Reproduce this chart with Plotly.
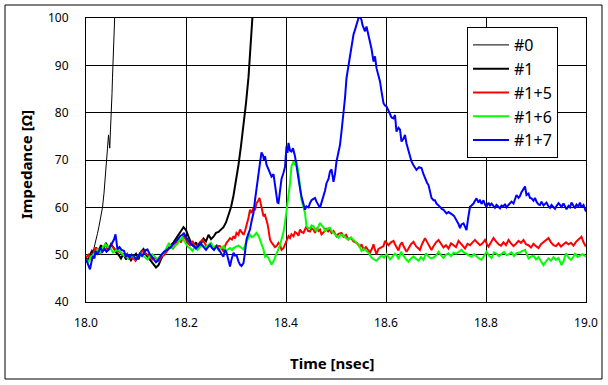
import plotly.graph_objects as go

# ---------------- data ----------------
x_tick_vals = [18.0, 18.2, 18.4, 18.6, 18.8, 19.0]
x_tick_text = ["18.0", "18.2", "18.4", "18.6", "18.8", "19.0"]
y_tick_vals = [40, 50, 60, 70, 80, 90, 100]

series_names = ["#0", "#1", "#1+5", "#1+6", "#1+7"]

x0 = [18.000, 18.005, 18.010, 18.014, 18.017, 18.020, 18.023, 18.026, 18.030, 18.033, 18.036, 18.039,
      18.041, 18.043, 18.045, 18.0465, 18.0475, 18.049, 18.050, 18.051, 18.052, 18.053, 18.054, 18.055,
      18.056, 18.057, 18.058]
y0 = [48.5, 48.9, 49.2, 50.5, 51.7, 53.0, 54.5, 56.0, 58.3, 60.0, 63.0, 66.5,
      69.5, 72.5, 75.3, 73.0, 72.5, 76.5, 78.5, 80.5, 84.0, 87.5, 90.5, 93.0,
      96.0, 99.0, 102.0]

x1 = [18.000, 18.004, 18.008, 18.012, 18.016, 18.020, 18.025, 18.030, 18.035, 18.040, 18.045, 18.050,
      18.055, 18.060, 18.065, 18.070, 18.075, 18.080, 18.085, 18.090, 18.095, 18.100, 18.105, 18.110,
      18.115, 18.120, 18.125, 18.130, 18.135, 18.140, 18.145, 18.150, 18.155, 18.160, 18.165, 18.170,
      18.175, 18.180, 18.185, 18.190, 18.195, 18.200, 18.205, 18.210, 18.215, 18.220, 18.225, 18.230,
      18.235, 18.240, 18.245, 18.250, 18.255, 18.260, 18.265, 18.270, 18.275, 18.280, 18.285, 18.290,
      18.295, 18.300, 18.305, 18.310, 18.315, 18.320, 18.325, 18.328, 18.331, 18.334]
y1 = [49.5, 48.5, 50.0, 50.8, 50.2, 51.5, 50.8, 52.0, 51.2, 52.5, 51.0, 52.2,
      51.5, 50.5, 50.0, 49.2, 50.2, 49.0, 49.8, 48.8, 49.6, 50.2, 49.0, 50.6,
      51.2, 50.0, 49.3, 48.6, 48.0, 47.3, 47.8, 49.0, 50.2, 50.8, 51.5, 52.0,
      52.6, 53.5, 54.2, 55.0, 55.8, 55.2, 53.8, 52.5, 51.8, 52.6, 51.5, 52.3,
      53.4, 52.8, 54.2, 53.3, 53.8, 54.6, 54.8, 55.2, 55.8, 56.8, 58.2, 60.0,
      62.5, 65.5, 69.0, 73.0, 77.0, 82.0, 87.5, 92.0, 97.0, 102.0]

x15 = [18.000, 18.005, 18.010, 18.015, 18.019, 18.024, 18.029, 18.034, 18.039, 18.044, 18.050, 18.055,
       18.059, 18.064, 18.069, 18.073, 18.078, 18.082, 18.086, 18.090, 18.095, 18.099, 18.104, 18.108,
       18.113, 18.118, 18.122, 18.127, 18.133, 18.138, 18.143, 18.146, 18.151, 18.157, 18.163, 18.169,
       18.174, 18.179, 18.183, 18.186, 18.190, 18.193, 18.196, 18.199, 18.204, 18.208, 18.213, 18.218,
       18.223, 18.228, 18.233, 18.238, 18.242, 18.246, 18.250, 18.255, 18.261, 18.268, 18.272, 18.275,
       18.278, 18.281, 18.285, 18.288, 18.292, 18.295, 18.298, 18.301, 18.305, 18.308, 18.311, 18.315,
       18.318, 18.321, 18.325, 18.328, 18.331, 18.335, 18.338, 18.341, 18.344, 18.347, 18.349, 18.351,
       18.353, 18.355, 18.358, 18.361, 18.363, 18.365, 18.367, 18.368, 18.371, 18.375, 18.378, 18.381,
       18.385, 18.388, 18.391, 18.395, 18.398, 18.401, 18.405, 18.408, 18.411, 18.415, 18.418, 18.421,
       18.425, 18.428, 18.431, 18.435, 18.438, 18.441, 18.444, 18.448, 18.451, 18.455, 18.458, 18.461,
       18.465, 18.468, 18.471, 18.475, 18.478, 18.481, 18.484, 18.488, 18.491, 18.495, 18.498, 18.501,
       18.505, 18.511, 18.515, 18.520, 18.525, 18.530, 18.535, 18.541, 18.545, 18.548, 18.551, 18.555,
       18.560, 18.565, 18.568, 18.572, 18.575, 18.578, 18.581, 18.585, 18.590, 18.595, 18.598, 18.601,
       18.605, 18.610, 18.615, 18.618, 18.621, 18.625, 18.628, 18.632, 18.636, 18.641, 18.645, 18.650,
       18.655, 18.660, 18.664, 18.668, 18.672, 18.678, 18.682, 18.686, 18.691, 18.695, 18.700, 18.705,
       18.710, 18.715, 18.720, 18.725, 18.730, 18.735, 18.740, 18.745, 18.750, 18.754, 18.758, 18.763,
       18.768, 18.773, 18.778, 18.783, 18.788, 18.793, 18.798, 18.802, 18.805, 18.810, 18.815, 18.820,
       18.825, 18.830, 18.835, 18.840, 18.845, 18.850, 18.855, 18.860, 18.865, 18.870, 18.875, 18.880,
       18.885, 18.890, 18.895, 18.900, 18.905, 18.910, 18.915, 18.920, 18.925, 18.930, 18.935, 18.940,
       18.945, 18.950, 18.955, 18.960, 18.965, 18.970, 18.975, 18.980, 18.985, 18.991, 18.995, 19.000]
y15 = [49.4, 50.0, 49.0, 50.2, 51.5, 50.6, 50.3, 51.0, 51.1, 51.6, 52.0, 51.4,
       51.1, 50.8, 50.5, 50.1, 49.8, 50.2, 49.0, 49.5, 49.2, 48.7, 49.6, 50.2,
       50.8, 50.4, 49.9, 49.6, 49.0, 49.4, 48.9, 48.7, 49.6, 50.0, 50.9, 51.8,
       51.3, 52.2, 52.9, 53.2, 52.6, 53.6, 53.9, 53.2, 52.4, 52.0, 52.9, 51.6,
       52.0, 52.6, 53.2, 52.3, 51.6, 51.8, 52.1, 51.4, 51.9, 51.8, 51.0, 50.7,
       51.8, 52.5, 53.0, 53.5, 53.2, 53.9, 53.4, 54.6, 54.2, 55.3, 54.8, 54.2,
       55.0, 56.0, 57.8, 59.5, 58.8, 59.9, 59.4, 60.9, 61.3, 62.0, 61.0, 60.2,
       59.0, 58.1, 58.4, 57.4, 56.5, 55.3, 54.0, 53.2, 52.6, 52.1, 51.6, 51.8,
       52.5, 52.1, 51.0, 51.4, 52.2, 52.8, 53.9, 53.5, 54.3, 53.9, 54.8, 54.6,
       54.0, 55.3, 54.8, 54.6, 55.4, 56.0, 55.0, 54.9, 55.6, 55.3, 54.6, 55.6,
       55.0, 55.3, 54.3, 54.6, 55.0, 55.6, 54.8, 55.4, 54.6, 55.0, 54.3, 53.9,
       54.4, 54.6, 53.8, 54.2, 53.2, 53.6, 52.8, 52.5, 52.0, 51.5, 52.2, 51.1,
       51.6, 50.8, 50.4, 51.3, 52.2, 51.0, 50.1, 51.2, 51.5, 51.8, 52.9, 52.5,
       52.0, 52.6, 52.9, 52.2, 51.5, 50.9, 52.0, 52.6, 51.6, 50.6, 51.3, 52.2,
       52.7, 51.8, 51.4, 51.0, 52.2, 53.5, 52.7, 51.9, 51.0, 51.8, 52.6, 53.1,
       52.2, 51.5, 52.0, 51.3, 52.4, 52.0, 51.6, 52.9, 52.2, 51.8, 51.3, 52.3,
       52.0, 52.6, 53.1, 52.5, 52.0, 52.4, 53.1, 52.2, 51.7, 52.6, 53.5, 52.8,
       52.2, 51.9, 52.6, 52.0, 53.1, 52.4, 51.8, 52.3, 52.9, 52.5, 53.1, 52.2,
       52.0, 51.5, 52.3, 51.8, 51.4, 52.2, 52.6, 53.0, 53.5, 52.6, 52.0, 51.8,
       52.4, 51.7, 52.1, 52.6, 52.2, 52.5, 51.9, 52.7, 53.2, 53.8, 52.6, 51.7]

x16 = [18.000, 18.005, 18.010, 18.015, 18.019, 18.023, 18.028, 18.033, 18.039, 18.044, 18.049, 18.054,
       18.059, 18.064, 18.069, 18.074, 18.079, 18.084, 18.089, 18.094, 18.099, 18.104, 18.109, 18.113,
       18.118, 18.123, 18.128, 18.133, 18.138, 18.143, 18.148, 18.153, 18.158, 18.162, 18.166, 18.170,
       18.175, 18.179, 18.183, 18.186, 18.190, 18.193, 18.196, 18.199, 18.204, 18.208, 18.213, 18.218,
       18.223, 18.228, 18.233, 18.238, 18.242, 18.246, 18.250, 18.255, 18.261, 18.265, 18.270, 18.275,
       18.280, 18.285, 18.288, 18.292, 18.295, 18.300, 18.305, 18.310, 18.315, 18.318, 18.321, 18.325,
       18.328, 18.331, 18.335, 18.338, 18.341, 18.345, 18.348, 18.351, 18.355, 18.358, 18.361, 18.365,
       18.368, 18.371, 18.375, 18.378, 18.381, 18.385, 18.388, 18.391, 18.395, 18.398, 18.401, 18.405,
       18.408, 18.411, 18.413, 18.415, 18.418, 18.421, 18.423, 18.425, 18.428, 18.431, 18.435, 18.438,
       18.441, 18.445, 18.448, 18.451, 18.455, 18.458, 18.461, 18.465, 18.468, 18.471, 18.475, 18.478,
       18.481, 18.485, 18.488, 18.491, 18.495, 18.500, 18.505, 18.510, 18.515, 18.520, 18.525, 18.530,
       18.535, 18.540, 18.545, 18.548, 18.551, 18.555, 18.560, 18.565, 18.571, 18.576, 18.581, 18.586,
       18.591, 18.596, 18.601, 18.605, 18.608, 18.613, 18.618, 18.622, 18.625, 18.630, 18.634, 18.640,
       18.645, 18.650, 18.655, 18.660, 18.665, 18.670, 18.675, 18.680, 18.685, 18.690, 18.695, 18.700,
       18.705, 18.710, 18.715, 18.720, 18.725, 18.730, 18.735, 18.740, 18.745, 18.751, 18.756, 18.761,
       18.766, 18.771, 18.776, 18.781, 18.786, 18.791, 18.796, 18.801, 18.806, 18.811, 18.816, 18.821,
       18.826, 18.831, 18.836, 18.841, 18.846, 18.851, 18.856, 18.861, 18.866, 18.871, 18.878, 18.881,
       18.885, 18.890, 18.895, 18.900, 18.905, 18.910, 18.915, 18.920, 18.925, 18.930, 18.935, 18.940,
       18.945, 18.951, 18.955, 18.960, 18.965, 18.970, 18.975, 18.978, 18.983, 18.988, 18.993, 19.000]
y16 = [49.0, 48.5, 49.6, 50.0, 50.6, 51.1, 50.4, 51.5, 52.2, 51.6, 51.3, 50.5,
       50.8, 51.2, 50.6, 50.0, 49.7, 49.2, 49.6, 49.8, 49.0, 49.7, 50.3, 49.9,
       49.4, 49.0, 49.8, 50.1, 49.5, 49.1, 49.6, 50.0, 50.8, 51.6, 52.5, 51.4,
       51.5, 52.0, 52.3, 52.9, 53.2, 53.6, 53.0, 52.5, 51.6, 51.4, 50.8, 51.8,
       51.0, 51.6, 52.0, 51.5, 51.8, 52.2, 52.5, 51.4, 51.9, 51.0, 51.4, 51.8,
       50.8, 51.2, 51.4, 51.0, 51.4, 51.7, 51.9, 51.5, 51.1, 52.0, 52.8, 53.6,
       54.2, 53.7, 53.9, 54.2, 54.6, 54.0, 53.2, 52.4, 51.1, 49.6, 49.8, 49.3,
       48.6, 47.9, 48.6, 49.3, 50.2, 51.1, 52.0, 53.2, 54.8, 56.7, 59.0, 61.6,
       65.0, 68.7, 69.5, 69.7, 69.0, 69.7, 68.5, 67.3, 64.5, 61.6, 60.0, 58.8,
       56.0, 55.6, 55.6, 56.2, 56.0, 55.3, 55.0, 56.0, 56.7, 56.2, 55.8, 55.0,
       55.3, 55.6, 55.7, 55.0, 54.6, 54.0, 53.6, 54.2, 54.0, 53.5, 53.2, 53.6,
       53.0, 52.6, 52.2, 51.5, 50.8, 51.2, 50.9, 50.4, 49.4, 49.0, 48.7, 49.3,
       49.8, 49.4, 50.1, 49.5, 49.0, 49.6, 50.2, 49.8, 49.0, 50.6, 49.9, 49.0,
       48.5, 49.2, 49.6, 49.2, 48.7, 49.5, 48.9, 50.3, 49.6, 49.2, 49.4, 49.8,
       50.6, 49.9, 49.3, 50.0, 50.3, 49.7, 50.4, 50.2, 50.6, 51.0, 50.4, 50.2,
       49.8, 49.6, 50.1, 49.6, 49.2, 48.9, 49.7, 50.6, 49.8, 49.3, 50.5, 50.2,
       49.7, 50.1, 50.6, 49.9, 50.1, 50.5, 49.7, 50.3, 50.4, 50.7, 51.0, 50.2,
       49.2, 49.6, 49.8, 49.0, 49.5, 48.6, 47.8, 48.6, 49.2, 48.7, 49.5, 48.9,
       49.3, 47.8, 48.6, 50.3, 49.4, 48.9, 49.6, 50.3, 49.5, 49.8, 50.1, 49.6]

x17 = [18.000, 18.004, 18.008, 18.011, 18.014, 18.017, 18.019, 18.022, 18.025, 18.029, 18.033, 18.037,
       18.041, 18.045, 18.049, 18.053, 18.056, 18.059, 18.061, 18.063, 18.067, 18.071, 18.076, 18.080,
       18.083, 18.087, 18.091, 18.096, 18.100, 18.104, 18.108, 18.112, 18.117, 18.120, 18.123, 18.127,
       18.131, 18.136, 18.140, 18.143, 18.147, 18.151, 18.156, 18.160, 18.165, 18.169, 18.173, 18.177,
       18.181, 18.183, 18.186, 18.189, 18.193, 18.196, 18.199, 18.203, 18.207, 18.211, 18.216, 18.220,
       18.224, 18.228, 18.232, 18.236, 18.240, 18.244, 18.248, 18.252, 18.256, 18.261, 18.265, 18.268,
       18.272, 18.275, 18.278, 18.281, 18.285, 18.288, 18.291, 18.295, 18.298, 18.301, 18.305, 18.308,
       18.311, 18.315, 18.318, 18.321, 18.325, 18.328, 18.331, 18.335, 18.338, 18.341, 18.345, 18.348,
       18.351, 18.354, 18.356, 18.358, 18.361, 18.365, 18.368, 18.371, 18.375, 18.378, 18.381, 18.383,
       18.385, 18.387, 18.388, 18.391, 18.395, 18.398, 18.401, 18.403, 18.405, 18.408, 18.411, 18.414,
       18.418, 18.421, 18.425, 18.428, 18.431, 18.435, 18.438, 18.441, 18.445, 18.448, 18.451, 18.455,
       18.458, 18.461, 18.465, 18.468, 18.471, 18.475, 18.478, 18.481, 18.485, 18.488, 18.491, 18.495,
       18.498, 18.501, 18.505, 18.508, 18.511, 18.515, 18.518, 18.521, 18.525, 18.528, 18.531, 18.535,
       18.538, 18.541, 18.545, 18.548, 18.551, 18.553, 18.555, 18.558, 18.561, 18.565, 18.568, 18.571,
       18.575, 18.578, 18.581, 18.585, 18.588, 18.591, 18.595, 18.598, 18.601, 18.605, 18.608, 18.611,
       18.615, 18.618, 18.621, 18.625, 18.628, 18.631, 18.635, 18.638, 18.641, 18.645, 18.648, 18.651,
       18.655, 18.661, 18.666, 18.671, 18.675, 18.678, 18.682, 18.685, 18.688, 18.691, 18.695, 18.698,
       18.701, 18.705, 18.708, 18.712, 18.715, 18.718, 18.721, 18.725, 18.728, 18.732, 18.736, 18.741,
       18.745, 18.748, 18.751, 18.755, 18.758, 18.761, 18.764, 18.768, 18.771, 18.775, 18.778, 18.781,
       18.785, 18.788, 18.791, 18.795, 18.798, 18.801, 18.805, 18.808, 18.811, 18.815, 18.818, 18.821,
       18.825, 18.828, 18.831, 18.835, 18.838, 18.841, 18.845, 18.848, 18.851, 18.855, 18.858, 18.861,
       18.865, 18.868, 18.871, 18.875, 18.878, 18.881, 18.885, 18.888, 18.891, 18.895, 18.898, 18.901,
       18.905, 18.908, 18.911, 18.915, 18.918, 18.921, 18.925, 18.928, 18.931, 18.935, 18.938, 18.941,
       18.945, 18.948, 18.951, 18.955, 18.958, 18.961, 18.965, 18.968, 18.971, 18.975, 18.978, 18.981,
       18.985, 18.988, 18.991, 18.995, 19.000]
y17 = [49.0, 48.0, 46.9, 48.5, 49.7, 49.2, 50.8, 50.0, 50.5, 51.5, 50.6, 51.2,
       50.6, 51.0, 51.8, 52.6, 53.2, 54.3, 52.5, 51.1, 51.6, 51.0, 50.8, 49.5,
       50.1, 49.4, 50.0, 49.7, 48.9, 49.6, 50.3, 49.7, 50.5, 51.0, 51.1, 50.2,
       49.7, 49.0, 48.4, 48.7, 49.4, 50.0, 50.6, 50.9, 51.2, 51.5, 52.0, 52.5,
       52.9, 53.2, 53.6, 54.0, 54.2, 54.6, 53.8, 53.2, 52.5, 52.1, 51.8, 51.3,
       51.9, 52.5, 52.0, 51.6, 51.0, 51.6, 52.1, 51.4, 51.0, 51.8, 51.0, 50.7,
       50.0, 49.6, 51.0, 50.5, 48.8, 47.5, 49.0, 50.4, 49.8, 49.9, 48.6, 47.9,
       47.6, 48.2, 50.5, 53.2, 54.5, 55.3, 57.0, 58.8, 61.5, 64.4, 67.0, 69.4,
       71.6, 71.0, 70.0, 70.8, 69.0, 68.0, 67.4, 66.5, 67.0, 64.5, 62.3, 61.0,
       60.9, 63.0, 64.4, 66.0, 67.3, 68.5, 72.9, 71.5, 73.6, 72.0, 71.8, 72.5,
       70.8, 68.5, 66.5, 64.0, 62.3, 60.5, 59.5, 60.2, 60.0, 60.9, 61.5, 61.8,
       62.0, 61.2, 60.5, 59.9, 61.0, 62.3, 63.5, 65.1, 66.0, 67.6, 68.0, 65.4,
       67.0, 69.7, 71.5, 73.2, 76.0, 79.5, 83.1, 87.3, 90.0, 92.2, 94.0, 96.5,
       97.5, 98.6, 100.0, 100.2, 99.6, 98.5, 97.9, 97.2, 98.2, 96.5, 95.1, 93.5,
       90.8, 91.9, 89.4, 88.0, 86.6, 84.5, 82.0, 81.5, 81.3, 80.4, 79.5, 79.0,
       78.8, 79.5, 76.0, 76.8, 76.4, 73.9, 74.5, 75.3, 73.5, 71.8, 70.8, 69.7,
       68.9, 67.9, 68.5, 68.3, 67.0, 66.1, 65.2, 64.7, 63.0, 62.0, 61.5, 61.5,
       60.8, 60.5, 60.1, 59.6, 59.5, 59.1, 58.7, 59.0, 58.7, 58.5, 58.2, 57.3,
       56.5, 55.6, 56.4, 56.6, 55.8, 55.2, 57.5, 60.1, 60.4, 60.8, 61.4, 61.9,
       61.0, 61.6, 60.7, 61.5, 60.6, 60.1, 61.0, 60.4, 60.8, 60.3, 59.9, 60.5,
       60.0, 59.8, 60.4, 60.2, 60.7, 60.0, 60.5, 60.8, 61.2, 60.8, 61.8, 62.6,
       62.0, 62.4, 63.2, 63.8, 64.4, 62.6, 62.9, 62.0, 61.9, 61.4, 62.0, 61.2,
       60.6, 60.5, 61.2, 60.4, 60.8, 61.0, 60.2, 59.9, 60.5, 60.0, 59.7, 60.3,
       60.9, 60.5, 60.1, 60.8, 60.0, 59.6, 60.3, 60.0, 61.0, 60.4, 59.8, 60.6,
       60.2, 61.0, 60.0, 60.5, 59.1]

series_x = [x0, x1, x15, x16, x17]
series_y = [y0, y1, y15, y16, y17]
series_colors = ["#000000", "#000000", "#FF0000", "#00FF00", "#0000FF"]
series_widths = [1, 2, 2, 2, 2]

# ---------------- figure ----------------
fig = go.Figure()
for name, xs, ys, c, w in zip(series_names, series_x, series_y, series_colors, series_widths):
    fig.add_trace(go.Scatter(x=xs, y=ys, mode="lines", name=name,
                             line=dict(color=c, width=w)))

L, R, T, B = 86, 22, 18, 83
W, H = 608, 385
pw, ph = W - L - R, H - T - B

def px_x(p):
    return (p - L) / pw

def px_y(p):
    return (H - B - p) / ph

fig.update_layout(
    width=W, height=H,
    margin=dict(l=L, r=R, t=T, b=B, autoexpand=False),
    paper_bgcolor="white", plot_bgcolor="white",
    font=dict(family="Noto Sans", size=12, color="black"),
    showlegend=True,
    legend=dict(x=px_x(467), y=px_y(27), xanchor="left", yanchor="top",
                bordercolor="black", borderwidth=1, bgcolor="white",
                font=dict(size=16, family="Noto Sans", color="black"),
                itemwidth=36, tracegroupgap=0),
    xaxis=dict(range=[18.0, 19.0], tickvals=x_tick_vals, ticktext=x_tick_text,
               showgrid=True, gridcolor="black", gridwidth=1,
               showline=True, linecolor="black", linewidth=1, mirror=True,
               ticks="", ticklabelstandoff=10, zeroline=False, fixedrange=True),
    yaxis=dict(range=[40, 100], tickvals=y_tick_vals,
               showgrid=True, gridcolor="black", gridwidth=1,
               showline=True, linecolor="black", linewidth=1, mirror=True,
               ticks="", ticklabelstandoff=14, zeroline=False, fixedrange=True),
    shapes=[dict(type="rect", xref="paper", yref="paper",
                 x0=px_x(5), x1=px_x(602), y0=px_y(379), y1=px_y(5),
                 line=dict(color="black", width=1), fillcolor="rgba(0,0,0,0)", layer="below")],
    annotations=[
        dict(text="<b>Time [nsec]</b>", xref="paper", yref="paper",
             x=px_x(332), y=px_y(363), xanchor="center", yanchor="middle",
             showarrow=False, font=dict(size=15, family="Noto Sans", color="black")),
        dict(text="<b>Impedance [Ω]</b>", xref="paper", yref="paper",
             x=px_x(26), y=px_y(165), xanchor="center", yanchor="middle",
             textangle=-90, showarrow=False,
             font=dict(size=15, family="Noto Sans", color="black")),
    ],
)

fig.write_html("out.html", config={"displayModeBar": False},
               post_script="document.body.style.margin='0px';document.body.style.padding='0px';")
